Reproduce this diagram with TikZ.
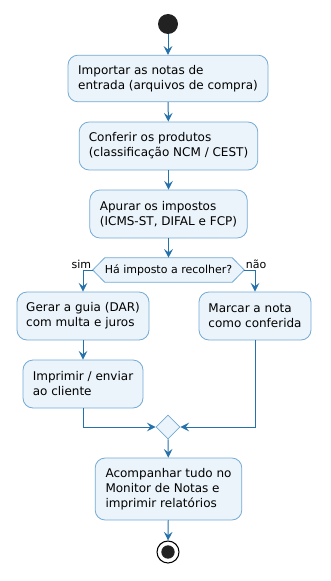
\documentclass[tikz,border=0pt]{standalone}
\usepackage{fontspec}
\setmainfont{DejaVu Sans}
\usetikzlibrary{arrows.meta,shapes.geometric}
\definecolor{actfill}{HTML}{EBF4FB}
\definecolor{actline}{HTML}{74AAD4}
\definecolor{flowline}{HTML}{2571AA}
\definecolor{dot}{HTML}{222222}
\begin{document}
\begin{tikzpicture}[x=0.75pt, y=-0.75pt, font=\fontsize{9}{11.25}\selectfont,
    act/.style={draw=actline, fill=actfill, rounded corners=7.5pt, align=left,
      minimum height=36pt, inner sep=0pt, line width=0.6pt},
    flow/.style={draw=flowline, line width=0.75pt,
      -{Stealth[length=6.5pt, width=6.5pt, inset=2.5pt]}},
    lbl/.style={font=\fontsize{8.25}{10}\selectfont, inner sep=1pt}]
  \useasboundingbox (0,0) rectangle (330,581);
  % start and the three steps of the check
  \node[circle, fill=dot, minimum size=15pt, inner sep=0pt] (start) at (168,24) {};
  \node[act, minimum width=150pt, minimum height=35pt] (importar) at (168,78.5) {Importar as notas de\\entrada (arquivos de compra)};
  \node[act, minimum width=134pt] (conferir) at (168.5,146) {Conferir os produtos\\(classificação NCM / CEST)};
  \node[act, minimum width=118pt] (apurar) at (168.5,214) {Apurar os impostos\\(ICMS-ST, DIFAL e FCP)};
  % the question
  \node[minimum width=113.25pt, minimum height=18pt, inner sep=0pt] (q) at (168.5,270) {};
  \draw[draw=actline, fill=actfill, line width=0.6pt] (q.west) -- ([xshift=9pt]q.north west)
    -- ([xshift=-9pt]q.north east) -- (q.east) -- ([xshift=-9pt]q.south east)
    -- ([xshift=9pt]q.south west) -- cycle;
  \node[lbl] (qtext) at (q) {Há imposto a recolher?};
  \node[lbl, anchor=south east] (sim) at (q.west) {sim};
  \node[lbl, anchor=south west] (nao) at (q.east) {não};
  % both branches
  \node[act, minimum width=99pt] (guia) at (83,316) {Gerar a guia (DAR)\\com multa e juros};
  \node[act, minimum width=90pt] (imprimir) at (83,384) {Imprimir / enviar\\ao cliente};
  \node[act, minimum width=84pt] (marcar) at (255,316) {Marcar a nota\\como conferida};
  \node[diamond, aspect=1, draw=actline, fill=actfill, minimum width=18pt, minimum height=18pt,
    inner sep=0pt, line width=0.6pt] (merge) at (168,427) {};
  \node[act, minimum width=110pt, minimum height=46.5pt] (monitor) at (168.5,489) {Acompanhar tudo no\\Monitor de Notas e\\imprimir relatórios};
  \node[circle, draw=black, fill=white, line width=0.8pt, minimum size=16.5pt, inner sep=0pt] (stop) at (168,552) {};
  \fill[dot] (stop.center) circle (5pt);
  % connectors
  \draw[flow] (start) -- (importar);
  \draw[flow] (importar) -- (conferir);
  \draw[flow] (conferir) -- (apurar);
  \draw[flow] (apurar) -- (q.north);
  \draw[flow] (q.west) -| (guia.north);
  \draw[flow] (q.east) -| (marcar.north);
  \draw[flow] (guia) -- (imprimir);
  \draw[flow] (imprimir.south) |- (merge.west);
  \draw[flow] (marcar.south) |- (merge.east);
  \draw[flow] (merge) -- (monitor);
  \draw[flow] (monitor) -- (stop);
\end{tikzpicture}
\end{document}
